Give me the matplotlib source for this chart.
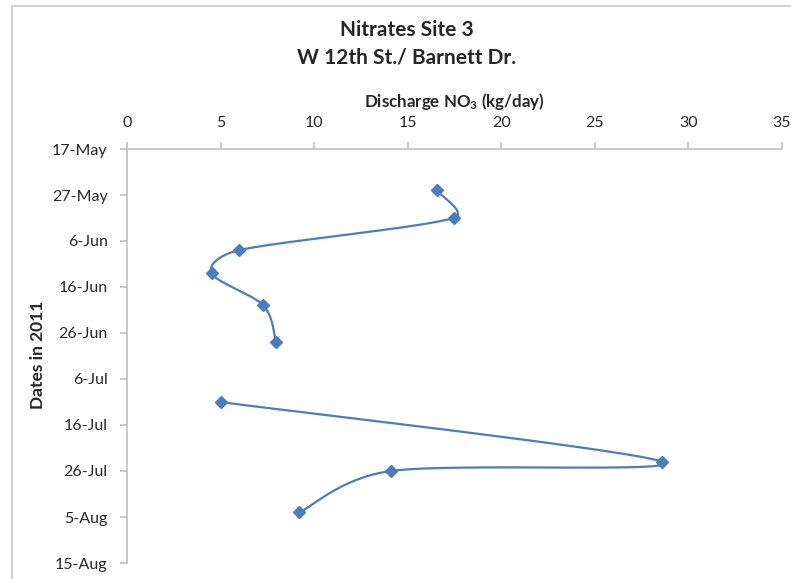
"""
nitrates_site3.py
-----------------
discharge NO3 at site 3 (W 12th St./ Barnett Dr.), dates running down the y axis
"""

import datetime as dt
from matplotlib import pyplot as plt
from matplotlib.patches import Rectangle
import matplotlib.dates as mdates
import numpy as np

# sampling runs (line is broken between them in the original)
run1_dates = ["2011-05-26", "2011-06-01", "2011-06-08", "2011-06-13", "2011-06-20", "2011-06-28"]
run1_no3 = [16.55, 17.45, 5.98, 4.52, 7.28, 7.96]
run2_dates = ["2011-07-11", "2011-07-24", "2011-07-26", "2011-08-04"]
run2_no3 = [5.0, 28.6, 14.1, 9.2]

x_ticks = [0, 5, 10, 15, 20, 25, 30, 35]
date_start = "2011-05-17"
date_end = "2011-08-15"
date_step = 10

blue = "#4a7ebb"
grey = "#bfbfbf"
ink = "#262626"

plt.rcParams['font.family'] = ['Lato', 'DejaVu Sans']
plt.rcParams['mathtext.fontset'] = 'custom'
plt.rcParams['mathtext.rm'] = 'Lato:bold'
plt.rcParams['mathtext.bf'] = 'Lato:bold'
plt.rcParams['mathtext.default'] = 'bf'


def to_num(days):
    return mdates.date2num([dt.datetime.strptime(d, "%Y-%m-%d") for d in days])


def smooth_path(pts, n=40):
    # excel style smoothed line: bezier with 1/6 tangents,
    # clamped to half the segment length when the neighbours are far away
    pts = np.asarray(pts, dtype=float)
    padded = np.vstack([pts[:1], pts, pts[-1:]])
    out = [pts[0]]
    for i in range(len(pts) - 1):
        p0, p1, p2, p3 = padded[i:i + 4]
        d02 = np.linalg.norm(p2 - p0)
        d12 = np.linalg.norm(p2 - p1)
        d13 = np.linalg.norm(p3 - p1)
        f1 = 1 / 6 if d02 / 6 < d12 / 2 else d12 / d02 / 2
        f2 = 1 / 6 if d13 / 6 < d12 / 2 else d12 / d13 / 2
        c1 = p1 + (p2 - p0) * f1
        c2 = p2 - (p3 - p1) * f2
        t = np.linspace(0, 1, n)[1:, None]
        curve = ((1 - t) ** 3 * p1 + 3 * (1 - t) ** 2 * t * c1
                 + 3 * (1 - t) * t ** 2 * c2 + t ** 3 * p2)
        out.extend(curve)
    return np.array(out)


fig = plt.figure(figsize=(7.91, 5.79), dpi=100)
ax = fig.add_axes([127 / 791, 1 - 563 / 579, (782 - 127) / 791, (563 - 149) / 579])

d0, d1 = to_num([date_start, date_end])
ax.set_xlim(0, 35)
ax.set_ylim(d1, d0)  # dates run downward

for days, vals in [(run1_dates, run1_no3), (run2_dates, run2_no3)]:
    yy = to_num(days)
    # smooth in screen space so the curve looks like excel's
    disp = ax.transData.transform(np.column_stack([vals, yy]))
    curve = ax.transData.inverted().transform(smooth_path(disp))
    ax.plot(curve[:, 0], curve[:, 1], color=blue, lw=1.6, solid_capstyle='round')
    ax.plot(vals, yy, ls='none', marker='D', ms=6.5, color=blue)

# axes styling
for side in ['right', 'bottom']:
    ax.spines[side].set_visible(False)
for side in ['left', 'top']:
    ax.spines[side].set_color(grey)
    ax.spines[side].set_linewidth(1.2)

ax.xaxis.tick_top()
ax.set_xticks(x_ticks)
ax.set_yticks(np.arange(d0, d1 + 1, date_step))
ax.yaxis.set_major_formatter(
    plt.FuncFormatter(lambda v, p: f"{mdates.num2date(v).day}-{mdates.num2date(v):%b}")
)
ax.tick_params(axis='both', direction='out', length=5, width=1.2, color=grey,
               labelsize=11.5, labelcolor=ink)
ax.tick_params(axis='x', pad=9)
ax.tick_params(axis='y', pad=9)

fig.text(407 / 791, 1 - 30 / 579, "Nitrates Site 3", ha='center', va='center',
         fontsize=15, fontweight='bold', color=ink)
fig.text(407 / 791, 1 - 58 / 579, "W 12th St./ Barnett Dr.", ha='center', va='center',
         fontsize=15, fontweight='bold', color=ink)
fig.text(454 / 791, 1 - 101 / 579, r"Discharge NO$_3$ (kg/day)", ha='center', va='center',
         fontsize=12.2, fontweight='bold', color=ink)
fig.text(38 / 791, 1 - 355 / 579, "Dates in 2011", ha='center', va='center',
         rotation=90, fontsize=12.5, fontweight='bold', color=ink)

# chart area border, cropped like the original screenshot
fig.add_artist(Rectangle((12 / 791, -0.1), 1.1, 1.1 - 6 / 579, transform=fig.transFigure,
                         fill=False, edgecolor='#d0d0d0', lw=1.5))

plt.savefig("out.png", dpi=100)
